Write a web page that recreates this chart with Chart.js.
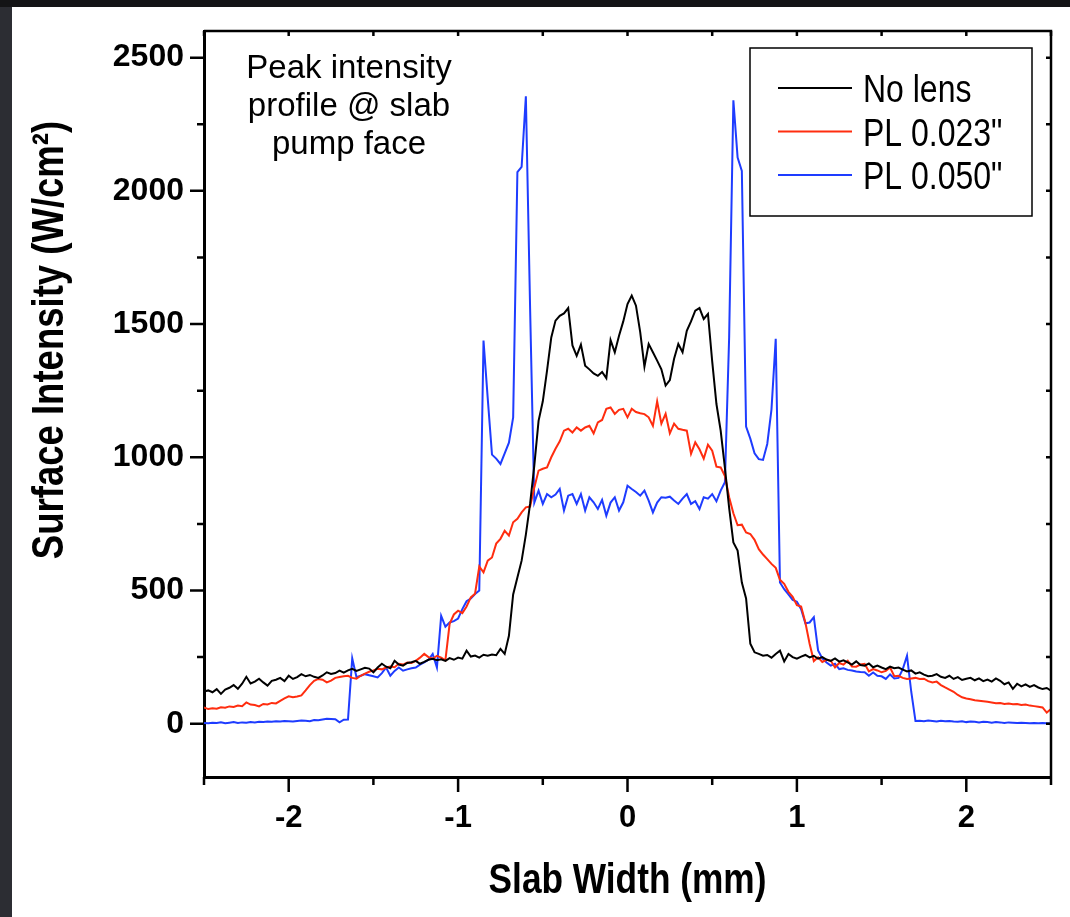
<!DOCTYPE html>
<html>
<head>
<meta charset="utf-8">
<title>Peak intensity profile @ slab pump face</title>
<script src="https://cdn.jsdelivr.net/npm/chart.js@4.4.1/dist/chart.umd.min.js"></script>
<style>
  html, body { margin: 0; padding: 0; background: #fff; }
  #wrap { position: relative; width: 1070px; height: 917px; }
</style>
</head>
<body>
<div id="wrap"><canvas id="profileChart" width="1070" height="917"></canvas></div>
<script>
// slab width positions (mm)
const slabWidth = [
  -2.5, -2.475, -2.45, -2.425, -2.4, -2.375, -2.35, -2.325, -2.3, -2.275,
  -2.25, -2.225, -2.2, -2.175, -2.15, -2.125, -2.1, -2.075, -2.05, -2.025,
  -2.0, -1.975, -1.95, -1.925, -1.9, -1.875, -1.85, -1.825, -1.8, -1.775,
  -1.75, -1.725, -1.7, -1.675, -1.65, -1.625, -1.6, -1.575, -1.55, -1.525,
  -1.5, -1.475, -1.45, -1.425, -1.4, -1.375, -1.35, -1.325, -1.3, -1.275,
  -1.25, -1.225, -1.2, -1.175, -1.15, -1.125, -1.1, -1.075, -1.05, -1.025,
  -1.0, -0.975, -0.95, -0.925, -0.9, -0.875, -0.85, -0.825, -0.8, -0.775,
  -0.75, -0.725, -0.7, -0.675, -0.65, -0.625, -0.6, -0.575, -0.55, -0.525,
  -0.5, -0.475, -0.45, -0.425, -0.4, -0.375, -0.35, -0.325, -0.3, -0.275,
  -0.25, -0.225, -0.2, -0.175, -0.15, -0.125, -0.1, -0.075, -0.05, -0.025,
  0.0, 0.025, 0.05, 0.075, 0.1, 0.125, 0.15, 0.175, 0.2, 0.225,
  0.25, 0.275, 0.3, 0.325, 0.35, 0.375, 0.4, 0.425, 0.45, 0.475,
  0.5, 0.525, 0.55, 0.575, 0.6, 0.625, 0.65, 0.675, 0.7, 0.725,
  0.75, 0.775, 0.8, 0.825, 0.85, 0.875, 0.9, 0.925, 0.95, 0.975,
  1.0, 1.025, 1.05, 1.075, 1.1, 1.125, 1.15, 1.175, 1.2, 1.225,
  1.25, 1.275, 1.3, 1.325, 1.35, 1.375, 1.4, 1.425, 1.45, 1.475,
  1.5, 1.525, 1.55, 1.575, 1.6, 1.625, 1.65, 1.675, 1.7, 1.725,
  1.75, 1.775, 1.8, 1.825, 1.85, 1.875, 1.9, 1.925, 1.95, 1.975,
  2.0, 2.025, 2.05, 2.075, 2.1, 2.125, 2.15, 2.175, 2.2, 2.225,
  2.25, 2.275, 2.3, 2.325, 2.35, 2.375, 2.4, 2.425, 2.45, 2.475,
  2.5
];

// surface intensity (W/cm2), no lens
const noLens = [
  121, 125, 118, 130, 112, 128, 135, 145, 131, 150,
  176, 151, 158, 169, 155, 143, 161, 165, 172, 160,
  180, 168, 175, 186, 178, 183, 176, 172, 181, 193,
  187, 190, 199, 192, 200, 206, 198, 204, 210, 207,
  193, 211, 225, 214, 208, 236, 222, 218, 228, 231,
  236, 225, 232, 240, 244, 238, 242, 236, 246, 240,
  248, 244, 274, 252, 256, 248, 259, 255, 260, 257,
  281, 262, 330, 485, 549, 612, 710, 825, 970, 1137,
  1210, 1325, 1450, 1513, 1531, 1540, 1560, 1420, 1381, 1423,
  1344, 1330, 1315, 1306, 1320, 1297, 1440, 1394, 1456, 1510,
  1575, 1607, 1569, 1470, 1340, 1425, 1394, 1363, 1330, 1269,
  1290, 1370, 1425, 1394, 1475, 1510, 1550, 1560, 1519, 1538,
  1360, 1200, 1100, 960, 810, 680, 650, 530, 470, 300,
  268, 262, 255, 258, 248, 262, 274, 234, 262, 250,
  244, 252, 258, 249, 255, 244, 250, 241, 236, 245,
  233, 238, 230, 222, 234, 220, 218, 226, 212, 218,
  211, 205, 214, 208, 211, 203, 196, 200, 188, 193,
  184, 178, 180, 186, 176, 172, 180, 168, 175, 164,
  169, 172, 163, 170, 160, 166, 158, 170, 161, 148,
  155, 131, 150, 140, 148, 138, 145, 136, 130, 134,
  124
];

// PL 0.023"
const pl023 = [
  61, 55, 58, 56, 62, 60, 65, 63, 68, 66,
  80, 72, 70, 65, 74, 72, 78, 76, 86, 95,
  103, 99, 102, 106, 125, 145, 161, 168, 165, 155,
  162, 172, 175, 178, 180, 172, 169, 180, 188, 195,
  200, 206, 204, 211, 215, 212, 225, 222, 230, 228,
  236, 248, 262, 250, 244, 255, 248, 238, 375, 410,
  424, 415, 440, 474, 488, 590, 568, 612, 624, 676,
  694, 724, 706, 756, 769, 793, 812, 815, 887, 950,
  957, 962, 1000, 1032, 1060, 1100, 1107, 1093, 1112, 1100,
  1112, 1118, 1090, 1131, 1140, 1182, 1187, 1163, 1178, 1182,
  1150, 1182, 1170, 1165, 1162, 1150, 1118, 1210, 1126, 1163,
  1090, 1126, 1107, 1103, 1100, 1013, 1056, 1030, 995, 1047,
  1025, 965, 962, 930, 850, 790, 745, 747, 718, 712,
  690, 655, 635, 618, 600, 585, 540, 525, 495, 476,
  445, 440, 380, 300, 235, 249, 232, 240, 236, 211,
  228, 222, 236, 215, 214, 222, 225, 196, 205, 200,
  193, 198, 211, 178, 180, 172, 168, 170, 172, 168,
  169, 160, 155, 158, 145, 136, 128, 120, 108, 99,
  95, 92, 88, 86, 84, 82, 80, 77, 78, 74,
  76, 73, 74, 70, 72, 68, 66, 64, 61, 42,
  55
];

// PL 0.050"
const pl050 = [
  3, 2, 4, 3, 5, 2, 4, 6, 3, 5,
  4, 6, 5, 7, 6, 8, 7, 9, 8, 10,
  9, 8, 10, 12, 11, 9, 14, 13, 16, 19,
  18, 17, 5, 15, 16, 245, 175, 180, 186, 182,
  178, 174, 190, 211, 180, 198, 211, 199, 204, 208,
  211, 222, 230, 240, 262, 211, 405, 364, 380, 385,
  395, 430, 460, 470, 487, 500, 1438, 1220, 1010, 995,
  975, 1015, 1055, 1150, 2070, 2090, 2355, 1560, 830, 875,
  825, 862, 850, 860, 881, 800, 856, 862, 825, 862,
  800, 850, 831, 806, 840, 781, 830, 850, 800, 831,
  893, 881, 870, 856, 875, 837, 793, 830, 850, 848,
  852, 838, 825, 845, 862, 825, 835, 806, 850, 845,
  862, 835, 875, 906, 1450, 2340, 2125, 2075, 1115, 1070,
  1015, 993, 990, 1050, 1180, 1445, 530, 505, 485, 465,
  458, 430, 377, 380, 400, 275, 245, 230, 218, 225,
  205, 208, 202, 200, 196, 194, 193, 180, 192, 180,
  178, 168, 185, 170, 172, 205, 255, 120, 10, 11,
  9, 12, 10, 8, 11, 9, 10, 8, 7, 9,
  6, 8, 7, 5, 7, 6, 4, 6, 5, 3,
  5, 4, 3, 4, 3, 2, 3, 2, 3, 2,
  1
];

const seriesNames = ['No lens', 'PL 0.023"', 'PL 0.050"'];
const seriesColors = ['#000000', '#ff2d0f', '#1e3cff'];

const xTickValues = [-2, -1, 0, 1, 2];
const xMinorValues = [-2.5, -1.5, -0.5, 0.5, 1.5, 2.5];
const yTickValues = [0, 500, 1000, 1500, 2000, 2500];
const yMinorValues = [250, 750, 1250, 1750, 2250];

const noteLines = ['Peak intensity', 'profile @ slab', 'pump face'];

const sans = "'Liberation Sans', Arial, sans-serif";

function toPoints(values) {
    return values.map((v, i) => ({ x: slabWidth[i], y: v }));
}

// text squeezed sideways, like the narrow face of the original
function narrowText(ctx, text, x, y, squeeze) {
    ctx.save();
    ctx.translate(x, y);
    ctx.scale(squeeze, 1);
    ctx.fillText(text, 0, 0);
    ctx.restore();
}

// border, ticks, legend box, titles and the note
const decorations = {
    id: "decorations",
    beforeDraw(chart) {
        const ctx = chart.ctx;
        ctx.save();
        ctx.fillStyle = "#141416";
        ctx.fillRect(0, 0, chart.width, chart.height);
        ctx.fillStyle = "#2c2d33";
        ctx.fillRect(0, 7, 12, chart.height - 7);
        ctx.fillStyle = "#ffffff";
        ctx.fillRect(12, 7, chart.width - 12, chart.height - 7);
        ctx.restore();
    },
    afterDraw(chart) {
        const ctx = chart.ctx;
        const area = chart.chartArea;
        const xs = chart.scales.x;
        const ys = chart.scales.y;

        ctx.save();
        ctx.strokeStyle = "#000";
        ctx.lineWidth = 2.5;
        ctx.beginPath();
        ctx.moveTo(area.left, area.top);
        ctx.lineTo(area.right, area.top);
        ctx.lineTo(area.right, area.bottom);
        ctx.stroke();

        // tick marks
        ctx.lineWidth = 2.5;
        ctx.beginPath();
        xTickValues.concat(xMinorValues).forEach(v => {
            let px = xs.getPixelForValue(v);
            let len = xTickValues.includes(v) ? 15 : 8;
            ctx.moveTo(px, area.bottom);
            ctx.lineTo(px, area.bottom + len);
            ctx.moveTo(px, area.top);
            ctx.lineTo(px, area.top + 5);
        });
        yTickValues.concat(yMinorValues).forEach(v => {
            let py = ys.getPixelForValue(v);
            let len = yTickValues.includes(v) ? 14 : 7;
            ctx.moveTo(area.left, py);
            ctx.lineTo(area.left - len, py);
            ctx.moveTo(area.right, py);
            ctx.lineTo(area.right - 5, py);
        });
        ctx.stroke();

        // legend
        const boxLeft = area.right - 301;
        const boxTop = area.top + 17;
        ctx.lineWidth = 1.5;
        ctx.strokeRect(boxLeft, boxTop, 282, 168);
        chart.data.datasets.forEach((ds, i) => {
            let y = boxTop + 40 + i * 43.5;
            ctx.strokeStyle = ds.borderColor;
            ctx.lineWidth = 2;
            ctx.beginPath();
            ctx.moveTo(boxLeft + 28, y);
            ctx.lineTo(boxLeft + 102, y);
            ctx.stroke();
            ctx.fillStyle = "#000";
            ctx.font = "39px " + sans;
            ctx.textAlign = "left";
            ctx.textBaseline = "alphabetic";
            narrowText(ctx, ds.label, boxLeft + 113, y + 14, 0.82);
        });

        // note
        ctx.fillStyle = "#000";
        ctx.font = "33px " + sans;
        ctx.textAlign = "center";
        ctx.textBaseline = "alphabetic";
        noteLines.forEach((t, i) => {
            ctx.fillText(t, area.left + 145, area.top + 47 + i * 38);
        });

        // axis titles
        ctx.font = "bold 43px " + sans;
        ctx.textAlign = "center";
        narrowText(ctx, "Slab Width (mm)", (area.left + area.right) / 2, 893, 0.82);

        ctx.translate(63, 340);
        ctx.rotate(-Math.PI / 2);
        ctx.font = "bold 44px " + sans;
        narrowText(ctx, "Surface Intensity (W/cm\u00b2)", 0, 0, 0.83);
        ctx.restore();
    }
};

new Chart(document.getElementById("profileChart"), {
    type: "line",
    data: {
        datasets: [
            { label: seriesNames[0], data: toPoints(noLens), borderColor: seriesColors[0] },
            { label: seriesNames[1], data: toPoints(pl023), borderColor: seriesColors[1] },
            { label: seriesNames[2], data: toPoints(pl050), borderColor: seriesColors[2] }
        ]
    },
    options: {
        responsive: false,
        animation: false,
        devicePixelRatio: 1,
        layout: { padding: { top: 31, right: 19, left: 0, bottom: 0 } },
        elements: {
            line: { borderWidth: 2, tension: 0, fill: false },
            point: { radius: 0 }
        },
        plugins: {
            legend: { display: false },
            tooltip: { enabled: false }
        },
        scales: {
            x: {
                type: "linear",
                min: -2.5,
                max: 2.5,
                afterBuildTicks: s => { s.ticks = xTickValues.map(v => ({ value: v })); },
                afterFit: s => { s.height = 140; },
                border: { display: true, color: "#000", width: 3 },
                grid: { display: true, drawOnChartArea: false, drawTicks: true, tickLength: 15, tickColor: "rgba(0,0,0,0)" },
                ticks: {
                    color: "#000",
                    padding: 8,
                    maxRotation: 0,
                    font: { family: sans, size: 31, weight: "bold" },
                    callback: v => String(v)
                }
            },
            y: {
                min: -200,
                max: 2600,
                afterBuildTicks: s => { s.ticks = yTickValues.map(v => ({ value: v })); },
                afterFit: s => { s.width = 204; },
                border: { display: true, color: "#000", width: 3 },
                grid: { display: true, drawOnChartArea: false, drawTicks: true, tickLength: 14, tickColor: "rgba(0,0,0,0)" },
                ticks: {
                    color: "#000",
                    padding: 6,
                    font: { family: sans, size: 32, weight: "bold" },
                    callback: v => String(v)
                }
            }
        }
    },
    plugins: [decorations]
});
</script>
</body>
</html>
